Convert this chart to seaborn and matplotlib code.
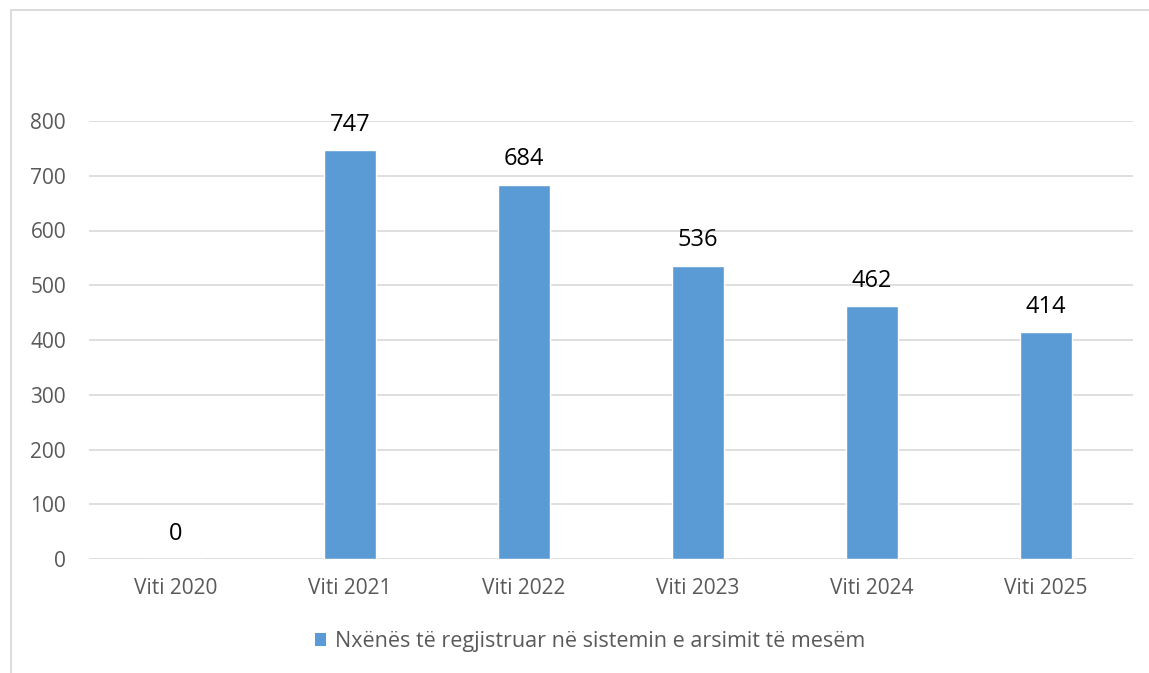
import matplotlib
matplotlib.use("Agg")
import matplotlib.pyplot as plt
import seaborn as sns
import pandas as pd
from matplotlib.patches import Rectangle, Patch

categories = ["Viti 2020", "Viti 2021", "Viti 2022", "Viti 2023", "Viti 2024", "Viti 2025"]
values = [0, 747, 684, 536, 462, 414]
series_name = "Nxënës të regjistruar në sistemin e arsimit të mesëm"
yticks = [0, 100, 200, 300, 400, 500, 600, 700, 800]

sns.set_theme(style="white")
plt.rcParams['font.family'] = ['Open Sans', 'DejaVu Sans']

W, H = 1149, 673
fig = plt.figure(figsize=(W / 100, H / 100), dpi=100)
ax = fig.add_axes([89 / W, 1 - 559 / H, (1133 - 89) / W, (559 - 121) / H])

df = pd.DataFrame({"cat": categories, "val": values})
bar_color = "#5B9BD5"
sns.barplot(data=df, x="cat", y="val", color=bar_color, width=0.3, ax=ax,
            saturation=1, zorder=3)

ax.set_ylim(0, 800)
ax.set_xlim(-0.5, 5.5)
ax.set_yticks(yticks)
ax.set_yticklabels([str(t) for t in yticks])
ax.yaxis.grid(True, color="#d9d9d9", linewidth=1.2, zorder=0)
ax.set_axisbelow(True)
for s in ax.spines.values():
    s.set_visible(False)
ax.set_xlabel("")
ax.set_ylabel("")
ax.tick_params(axis="both", length=0, labelsize=15, labelcolor="#595959")
ax.tick_params(axis="y", pad=16.5)
ax.tick_params(axis="x", pad=14)

for cont in ax.containers:
    ax.bar_label(cont, labels=[str(v) for v in values], padding=9.5,
                 fontsize=17, color="black")

fig.legend(handles=[Patch(facecolor=bar_color, edgecolor="none", label=series_name)],
           loc="center", bbox_to_anchor=(590 / W, 1 - 642 / H), frameon=False,
           fontsize=15.5, handlelength=0.55, handleheight=0.55, handletextpad=0.4,
           labelcolor="#595959")

fig.add_artist(Rectangle((11 / W, -0.1), 1.2, 1 - 10 / H + 0.1, transform=fig.transFigure,
                         fill=False, edgecolor="#d9d9d9", linewidth=1.3))

fig.savefig("out.png", dpi=100)
